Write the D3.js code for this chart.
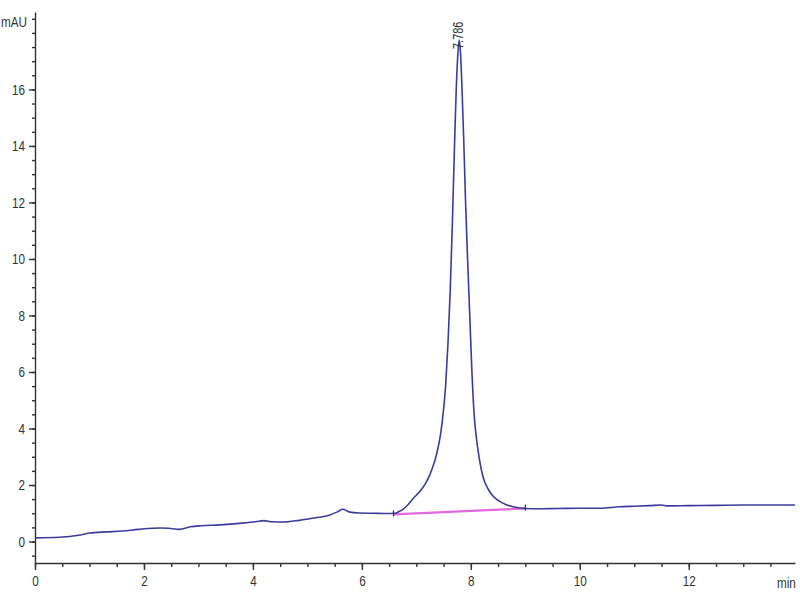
<!DOCTYPE html>
<html>
<head>
<meta charset="utf-8">
<script src="https://cdn.jsdelivr.net/npm/d3@7"></script>
<style>
  body { margin: 0; background: #fff; }
  svg text { font-family: "Liberation Sans", Arial, sans-serif; fill: #333; }
  .axis path, .axis line { stroke: #333; stroke-width: 1.4; }
</style>
</head>
<body>
<svg id="chart" width="800" height="600"></svg>
<script>
//Signal (time in min, absorbance in mAU)
const times = [0.00, 0.45, 0.80, 1.00, 1.30, 1.60, 1.90, 2.30, 2.45, 2.65, 2.85, 3.05, 3.40, 3.80, 4.05, 4.20, 4.35, 4.55, 4.85, 5.15, 5.40, 5.55, 5.65, 5.78, 5.95, 6.20, 6.50, 6.60,
  6.68, 6.76, 6.85, 6.94, 7.02, 7.10, 7.19, 7.28, 7.37, 7.44, 7.49, 7.54, 7.58, 7.62, 7.66, 7.70, 7.73, 7.76, 7.786, 7.81, 7.84, 7.87, 7.90, 7.94, 7.98, 8.02, 8.06, 8.10, 8.15, 8.23, 8.32, 8.41, 8.53, 8.65, 8.80, 9.00,
  9.20, 9.60, 10.00, 10.37, 10.73, 11.00, 11.28, 11.50, 11.60, 12.00, 12.50, 13.00, 13.50, 13.95];
const signal = [0.13, 0.15, 0.22, 0.30, 0.34, 0.37, 0.43, 0.48, 0.47, 0.43, 0.52, 0.56, 0.59, 0.65, 0.70, 0.74, 0.70, 0.69, 0.75, 0.84, 0.93, 1.05, 1.14, 1.04, 1.01, 1.00, 0.99, 1.00,
  1.06, 1.15, 1.31, 1.52, 1.68, 1.86, 2.13, 2.52, 3.08, 3.75, 4.50, 5.60, 7.00, 8.80, 11.2, 14.0, 15.9, 17.2, 17.75, 17.3, 15.9, 14.2, 12.2, 10.0, 8.00, 6.00, 4.50, 3.70, 3.00, 2.25, 1.85, 1.60, 1.42, 1.30, 1.22, 1.17,
  1.16, 1.17, 1.18, 1.18, 1.23, 1.25, 1.27, 1.29, 1.26, 1.27, 1.28, 1.29, 1.29, 1.29];

//Integration baseline under the peak
const baseTimes = [6.58, 9.00];
const baseValues = [0.96, 1.17];

//Peak label
const peakTime = 7.786;
const peakValue = 17.75;
const peakLabel = "7.786";

//Axis ticks
const xMajor = [0, 2, 4, 6, 8, 10, 12];
const xMinor = d3.range(0, 13.75, 0.5);
const yMajor = [0, 2, 4, 6, 8, 10, 12, 14, 16];
const yMinor = d3.range(-0.5, 18.75, 0.5);

const svg = d3.select("#chart");

const x = d3.scaleLinear().domain([0, 13.95]).range([35, 795]);
const y = d3.scaleLinear().domain([-0.76, 18.74]).range([563, 12]);

//Squeeze texts to look like a narrow font
function narrow(sel) {
  sel.each(function() {
    const w = this.getComputedTextLength();
    d3.select(this).attr("textLength", w * 0.78).attr("lengthAdjust", "spacingAndGlyphs");
  });
}

//X axis
svg.append("g")
  .attr("class", "axis")
  .attr("transform", `translate(0,${y(-0.76)})`)
  .call(d3.axisBottom(x).tickValues(xMinor).tickSize(4).tickFormat(""))
  .call(g => g.select(".domain").remove());

svg.append("g")
  .attr("class", "axis")
  .attr("transform", `translate(0,${y(-0.76)})`)
  .call(d3.axisBottom(x).tickValues(xMajor).tickSize(7).tickSizeOuter(0).tickPadding(5))
  .call(g => g.selectAll("text").attr("font-size", 15).call(narrow));

//Y axis
svg.append("g")
  .attr("class", "axis")
  .attr("transform", `translate(${x(0)},0)`)
  .call(d3.axisLeft(y).tickValues(yMinor).tickSize(3).tickFormat(""))
  .call(g => g.select(".domain").remove());

svg.append("g")
  .attr("class", "axis")
  .attr("transform", `translate(${x(0)},0)`)
  .call(d3.axisLeft(y).tickValues(yMajor).tickSize(6).tickSizeOuter(0).tickPadding(4))
  .call(g => g.selectAll("text").attr("font-size", 15).call(narrow));

//Units
svg.append("text")
  .attr("x", 1).attr("y", 27)
  .attr("font-size", 15)
  .text("mAU")
  .call(narrow);

svg.append("text")
  .attr("x", 777).attr("y", 588)
  .attr("font-size", 15)
  .text("min")
  .call(narrow);

//Baseline
svg.append("line")
  .attr("x1", x(baseTimes[0])).attr("y1", y(baseValues[0]))
  .attr("x2", x(baseTimes[1])).attr("y2", y(baseValues[1]))
  .attr("stroke", "#e468dc")
  .attr("stroke-width", 2.2);

//Signal
const line = d3.line()
  .x((d, i) => x(times[i]))
  .y(d => y(d))
  .curve(d3.curveMonotoneX);

svg.append("path")
  .datum(signal)
  .attr("fill", "none")
  .attr("stroke", "#3a3c9c")
  .attr("stroke-width", 1.6)
  .attr("d", line);

//Peak start / end markers
baseTimes.forEach((t, i) => {
  svg.append("line")
    .attr("x1", x(t)).attr("x2", x(t))
    .attr("y1", y(baseValues[i]) - 4).attr("y2", y(baseValues[i]) + 2)
    .attr("stroke", "#333")
    .attr("stroke-width", 1.2);
});

//Retention time label
svg.append("text")
  .attr("transform", `translate(${x(peakTime) + 4},${y(peakValue) + 9}) rotate(-90)`)
  .attr("font-size", 14)
  .text(peakLabel)
  .call(narrow);
</script>
</body>
</html>
